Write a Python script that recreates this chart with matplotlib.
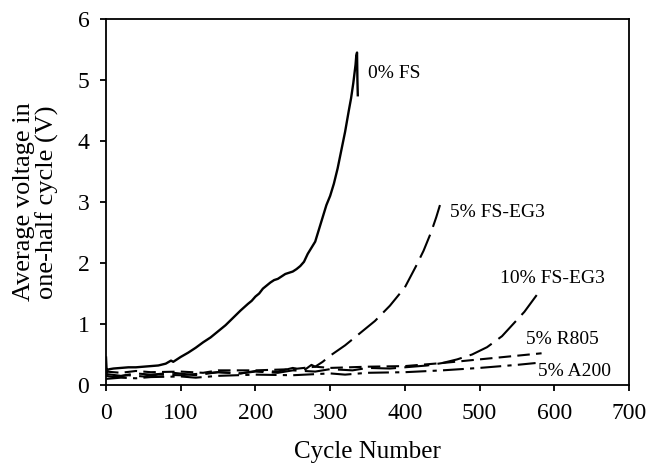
import matplotlib
matplotlib.use("Agg")
import matplotlib.pyplot as plt

plt.rcParams["font.family"] = ["Liberation Serif", "DejaVu Serif"]

# 0% FS (solid)
fs0_x = [0, 1, 2, 5, 10, 20, 30, 40, 50, 60, 70, 80, 87, 90, 95, 100, 110, 120, 130,
         140, 150, 160, 170, 180, 190, 195, 200, 205, 210, 215, 220, 225, 230, 235,
         240, 245, 250, 255, 260, 265, 270, 275, 280, 285, 290, 295, 300, 305, 310,
         315, 320, 325, 328, 331, 333, 334, 335, 336, 336.5, 337]
fs0_y = [0.45, 0.20, 0.25, 0.26, 0.27, 0.28, 0.29, 0.29, 0.30, 0.31, 0.32, 0.35, 0.40,
         0.38, 0.42, 0.46, 0.53, 0.61, 0.70, 0.78, 0.88, 0.98, 1.10, 1.22, 1.33, 1.38,
         1.45, 1.50, 1.58, 1.63, 1.68, 1.72, 1.74, 1.78, 1.82, 1.84, 1.86, 1.90, 1.95,
         2.02, 2.15, 2.25, 2.35, 2.55, 2.75, 2.95, 3.10, 3.30, 3.55, 3.85, 4.15, 4.50,
         4.70, 4.95, 5.15, 5.25, 5.40, 5.45, 5.00, 4.75]

# 5% FS-EG3
eg5_x = [0, 10, 30, 50, 70, 100, 130, 150, 180, 200, 230, 250, 265, 275, 280, 290,
         300, 320, 340, 360, 380, 400, 415, 425, 435, 442, 447]
eg5_y = [0.15, 0.13, 0.16, 0.14, 0.17, 0.16, 0.19, 0.21, 0.19, 0.23, 0.22, 0.28, 0.24,
         0.33, 0.30, 0.38, 0.48, 0.65, 0.85, 1.05, 1.30, 1.60, 1.95, 2.20, 2.50, 2.75,
         2.95]

# 10% FS-EG3
eg10_x = [0, 20, 40, 60, 90, 120, 150, 180, 200, 230, 250, 280, 300, 330, 350, 380,
          400, 430, 450, 470, 490, 510, 530, 545, 560, 575, 583]
eg10_y = [0.18, 0.15, 0.19, 0.17, 0.20, 0.16, 0.21, 0.19, 0.22, 0.20, 0.24, 0.22, 0.26,
          0.24, 0.28, 0.27, 0.29, 0.32, 0.36, 0.42, 0.50, 0.62, 0.80, 1.00, 1.20, 1.45,
          1.58]

# 5% R805
r805_x = [0, 20, 40, 60, 100, 130, 150, 200, 250, 280, 300, 350, 400, 450, 500, 550,
          583]
r805_y = [0.22, 0.20, 0.23, 0.21, 0.22, 0.20, 0.24, 0.24, 0.26, 0.30, 0.28, 0.30, 0.31,
          0.36, 0.42, 0.48, 0.52]

# 5% A200
a200_x = [0, 20, 40, 60, 100, 120, 150, 200, 250, 300, 320, 350, 400, 450, 500, 550,
          575]
a200_y = [0.10, 0.12, 0.11, 0.13, 0.14, 0.12, 0.15, 0.17, 0.16, 0.19, 0.17, 0.20, 0.21,
          0.24, 0.28, 0.33, 0.36]

labels = [(350, 5.1, "0% FS"), (460, 2.83, "5% FS-EG3"), (527, 1.75, "10% FS-EG3"),
          (562, 0.74, "5% R805"), (578, 0.22, "5% A200")]

fig = plt.figure(figsize=(6.48, 4.67), dpi=100)
ax = fig.add_axes([106 / 648, 1 - 385 / 467, 523 / 648, 366 / 467])

ax.plot(fs0_x, fs0_y, color="black", lw=1.7)
ax.plot(eg5_x, eg5_y, color="black", lw=1.5, dashes=(12, 4))
ax.plot(eg10_x, eg10_y, color="black", lw=1.5, dashes=(12, 4))
ax.plot(r805_x, r805_y, color="black", lw=1.5, dashes=(6, 3))
ax.plot(a200_x, a200_y, color="black", lw=1.5, dashes=(10, 3, 2, 3))

for x, y, t in labels:
    ax.text(x, y, t, fontsize=14, va="center", ha="left")

ax.set_xlim(0, 700)
ax.set_ylim(0, 6)
ax.set_xticks(range(0, 701, 100))
ax.set_yticks(range(0, 7))
ax.tick_params(direction="out", labelsize=17, length=4, width=1.3)
ax.tick_params(axis="x", pad=9)
ax.tick_params(axis="y", pad=8)
for s in ax.spines.values():
    s.set_linewidth(1.3)

ax.set_xlabel("Cycle Number", fontsize=18, va="center")
ax.xaxis.set_label_coords(0.5, -0.183)
ax.set_ylabel("Average voltage in\none-half cycle (V)", fontsize=19, va="center",
              linespacing=1.0)
ax.yaxis.set_label_coords(-0.134, 0.5)

fig.savefig("out.png", dpi=100)
